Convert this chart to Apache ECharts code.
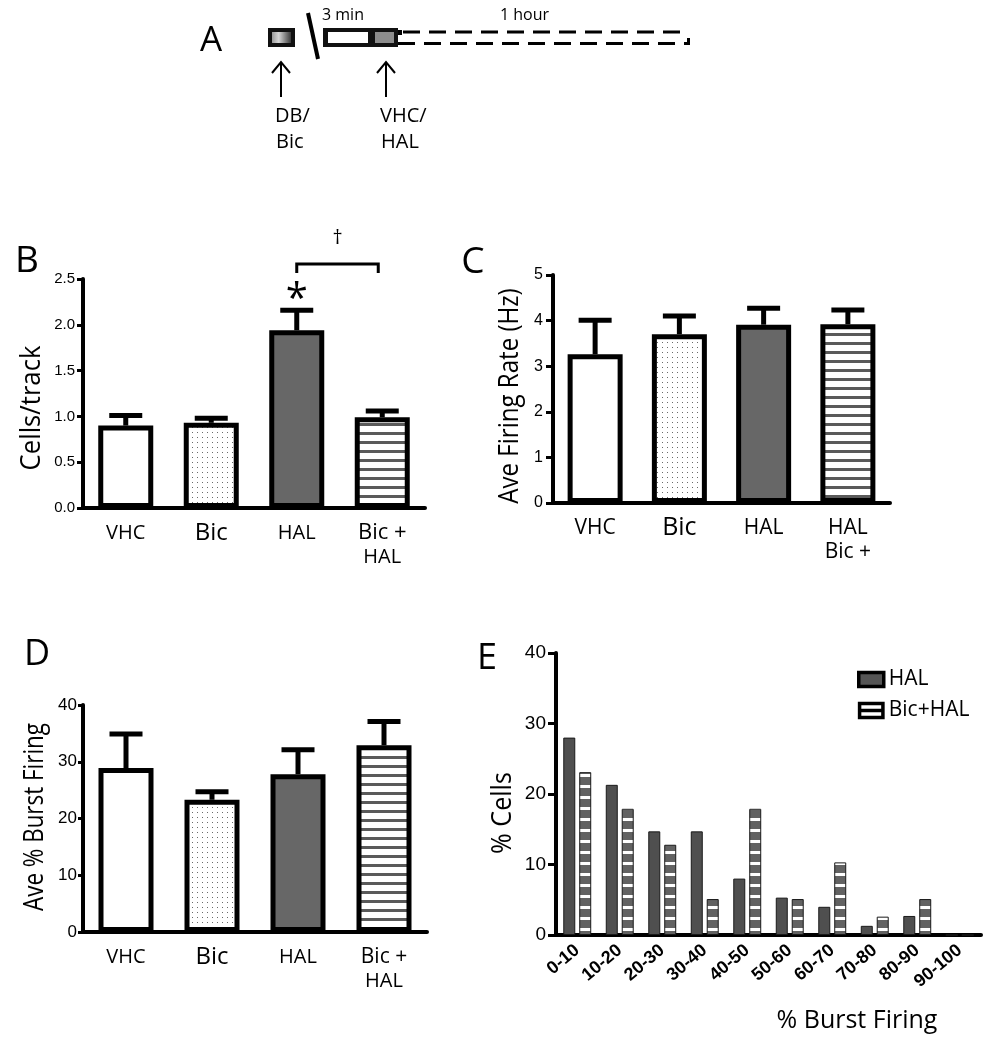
<!DOCTYPE html>
<html><head><meta charset="utf-8">
<script src="https://cdn.jsdelivr.net/npm/echarts@6/dist/echarts.min.js"></script>
<style>html,body{margin:0;padding:0;background:#fff}#c{width:1001px;height:1050px}</style>
</head><body><div id="c"></div>
<script>
// ---------- data ----------
const groupsB = ['VHC', 'Bic', 'HAL', 'Bic +\nHAL'];
const groupsC = ['VHC', 'Bic', 'HAL', 'HAL\nBic +'];
const groupsD = ['VHC', 'Bic', 'HAL', 'Bic +\nHAL'];
const cellsMean = [0.90, 0.93, 1.94, 0.99];
const cellsSem  = [0.11, 0.05, 0.22, 0.07];
const rateMean  = [3.26, 3.70, 3.91, 3.92];
const rateSem   = [0.75, 0.40, 0.36, 0.31];
const burstMean = [28.9, 23.3, 27.8, 32.9];
const burstSem  = [6.0, 1.4, 4.3, 4.2];
const bins = ['0-10', '10-20', '20-30', '30-40', '40-50', '50-60', '60-70', '70-80', '80-90', '90-100'];
const halPct    = [28.0, 21.3, 14.7, 14.7, 8.0, 5.3, 4.0, 1.3, 2.7, 0];
const bicHalPct = [23.1, 17.9, 12.8, 5.1, 17.9, 5.1, 10.3, 2.6, 5.1, 0];
const seriesNamesE = ['HAL', 'Bic+HAL'];

// ---------- styles ----------
const FONT = "'Open Sans', 'Noto Sans', sans-serif";
const NUM = "'Liberation Sans', Arial, sans-serif";
function mkPattern(w, h, draw) {
  const c = document.createElement('canvas'); c.width = w; c.height = h;
  draw(c.getContext('2d')); return { image: c, repeat: 'repeat' };
}
const dots = mkPattern(5, 5, g => { g.fillStyle = '#fff'; g.fillRect(0, 0, 5, 5); g.fillStyle = '#6a6a6a'; g.fillRect(2, 2, 1, 1); });
const stripes = mkPattern(9, 9, g => { g.fillStyle = '#fff'; g.fillRect(0, 0, 9, 9); g.fillStyle = '#5a5a5a'; g.fillRect(0, 0, 9, 3); });
const stripesE = mkPattern(11, 11, g => { g.fillStyle = '#626262'; g.fillRect(0, 0, 11, 11); g.fillStyle = '#fff'; g.fillRect(0, 4, 11, 3); });
const fills = ['#ffffff', dots, '#676767', stripes];

const chart = echarts.init(document.getElementById('c'), null, { renderer: 'canvas' });

function xCat(grid, data, sz) {
  return {
    type: 'category', gridIndex: grid, data: data,
    axisLine: { lineStyle: { color: '#000', width: 4 } },
    axisTick: { alignWithLabel: true, length: 8, lineStyle: { color: '#000', width: 4 } },
    axisLabel: {
      margin: 13, interval: 0,
      formatter: v => v.split('\n').map(s => s === 'Bic' ? '{big|Bic}' : (s === 'Bic +' ? '{mid|Bic +}' : '{n|' + s + '}')).join('\n'),
      rich: {
        n: { fontSize: sz[0], fontFamily: FONT, color: '#000', lineHeight: 24 },
        big: { fontSize: sz[1], fontFamily: FONT, color: '#000', lineHeight: 24 },
        mid: { fontSize: sz[2], fontFamily: FONT, color: '#000', lineHeight: 24 }
      }
    }
  };
}
function yVal(grid, max, interval, fs, margin, tickLen, fmt) {
  return {
    type: 'value', gridIndex: grid, min: 0, max: max, interval: interval,
    splitLine: { show: false },
    axisLine: { show: true, lineStyle: { color: '#000', width: 4 } },
    axisTick: { show: true, length: tickLen, lineStyle: { color: '#000', width: 3 } },
    axisLabel: { fontSize: fs, fontFamily: NUM, color: '#000', margin: margin, formatter: fmt }
  };
}
function barSeries(ax, means) {
  return {
    type: 'bar', xAxisIndex: ax, yAxisIndex: ax, barWidth: 55, z: 3, silent: true,
    data: means.map((m, i) => ({ value: m, itemStyle: { color: fills[i], borderColor: '#000', borderWidth: 5 } }))
  };
}
function errSeries(ax, means, sems) {
  return {
    type: 'custom', xAxisIndex: ax, yAxisIndex: ax, z: 2, silent: true,
    data: means.map((m, i) => [i, m, m + sems[i]]),
    renderItem: (params, api) => {
      const x = api.value(0);
      const lo = api.coord([x, api.value(1)]);
      const hi = api.coord([x, api.value(2)]);
      return {
        type: 'group', children: [
          { type: 'line', shape: { x1: lo[0], y1: lo[1], x2: hi[0], y2: hi[1] }, style: { stroke: '#000', lineWidth: 5 } },
          { type: 'line', shape: { x1: hi[0] - 16.5, y1: hi[1], x2: hi[0] + 16.5, y2: hi[1] }, style: { stroke: '#000', lineWidth: 5 } }
        ]
      };
    }
  };
}

const option = {
  backgroundColor: '#fff',
  animation: false,
  grid: [
    { left: 83, top: 279, width: 342, height: 229 },
    { left: 553, top: 275, width: 337, height: 228 },
    { left: 83, top: 705, width: 344, height: 227 },
    { left: 556, top: 653, width: 425, height: 282 }
  ],
  xAxis: [
    xCat(0, groupsB, [20, 24, 22]),
    xCat(1, groupsC, [21, 25, 21]),
    xCat(2, groupsD, [20, 24, 21]),
    {
      type: 'category', gridIndex: 3, data: bins,
      axisLine: { lineStyle: { color: '#000', width: 4 } },
      axisTick: { alignWithLabel: true, length: 9, lineStyle: { color: '#000', width: 3 } },
      axisLabel: { interval: 0, rotate: 40, margin: 13, fontSize: 18, fontWeight: 'bold', fontFamily: "'Liberation Sans Narrow', 'Liberation Sans', Arial, sans-serif", color: '#000' }
    }
  ],
  yAxis: [
    yVal(0, 2.5, 0.5, 15, 8, 6, v => v.toFixed(1)),
    yVal(1, 5, 1, 16, 10, 7, v => String(v)),
    yVal(2, 40, 10, 17, 6, 5, v => String(v)),
    yVal(3, 40, 10, 19, 10, 8, v => String(v))
  ],
  legend: {
    orient: 'vertical', left: 852, top: 664, itemWidth: 25, itemHeight: 14, itemGap: 10,
    textStyle: { fontFamily: FONT, fontSize: 21, color: '#000' },
    data: [
      { name: 'HAL', icon: 'rect', itemStyle: { color: '#555', borderColor: '#000', borderWidth: 3.5 } },
      { name: 'Bic+HAL', icon: 'path://M0,0L10,0L10,6L0,6Z M0,3L10,3', itemStyle: { color: '#fff', borderColor: '#000', borderWidth: 3.5 } }
    ]
  },
  series: [
    errSeries(0, cellsMean, cellsSem), barSeries(0, cellsMean),
    errSeries(1, rateMean, rateSem), barSeries(1, rateMean),
    errSeries(2, burstMean, burstSem), barSeries(2, burstMean),
    {
      name: seriesNamesE[0], type: 'bar', xAxisIndex: 3, yAxisIndex: 3, barWidth: 12, barGap: '33%', silent: true,
      itemStyle: { color: '#4f4f4f', borderColor: '#1a1a1a', borderWidth: 1 }, data: halPct
    },
    {
      name: seriesNamesE[1], type: 'bar', xAxisIndex: 3, yAxisIndex: 3, barWidth: 12, barGap: '33%', silent: true,
      itemStyle: { color: stripesE, borderColor: '#1a1a1a', borderWidth: 1 }, data: bicHalPct
    }
  ]
};
chart.setOption(option);

// ---------- text / annotations ----------
function T(text, x, y, size, o) {
  o = o || {};
  return {
    type: 'text', x: x, y: y, rotation: o.rot || 0, scaleX: o.sx || 1, scaleY: 1, z: 10,
    style: { text: text, font: (o.w || 'normal') + ' ' + size + 'px ' + (o.f || FONT), fill: '#000', align: o.align || 'center', verticalAlign: 'middle' }
  };
}
const R = Math.PI / 2;
const hal = chart.convertToPixel({ xAxisIndex: 0, yAxisIndex: 0 }, [2, cellsMean[2] + cellsSem[2]]);
const bh = chart.convertToPixel({ xAxisIndex: 0, yAxisIndex: 0 }, [3, 2.5]);
const brY = bh[1] - 15;

const graphics = [
  // panel letters
  T('A', 211, 41, 35), T('B', 27, 261, 37), T('C', 473, 262, 37), T('D', 37, 655, 36), T('E', 487, 659, 36),
  // axis titles
  T('Cells/track', 32, 408, 27, { rot: R, sx: 0.95 }),
  T('Ave Firing Rate (Hz)', 510, 396, 28, { rot: R, sx: 0.86 }),
  T('Ave % Burst Firing', 35, 817, 27, { rot: R, sx: 0.83 }),
  T('% Cells', 503, 813, 27, { rot: R, sx: 0.93 }),
  T('% Burst Firing', 857, 1021, 25),
  // B annotations
  T('*', hal[0], hal[1] - 10, 40),
  { type: 'polyline', z: 10, shape: { points: [[hal[0], brY + 9], [hal[0], brY], [bh[0] - 4, brY], [bh[0] - 4, brY + 9]] }, style: { stroke: '#000', lineWidth: 3, fill: null } },
  T('†', (hal[0] + bh[0] - 4) / 2, brY - 26, 20),
  // panel A scheme
  { type: 'rect', shape: { x: 268, y: 28, width: 27, height: 19 }, style: { fill: '#111' } },
  { type: 'rect', shape: { x: 272, y: 32, width: 19, height: 11 }, style: { fill: new echarts.graphic.LinearGradient(0, 0, 1, 0, [{ offset: 0, color: '#9a9a9a' }, { offset: 0.35, color: '#d6d6d6' }, { offset: 1, color: '#3c3c3c' }]) } },
  { type: 'line', shape: { x1: 308, y1: 13, x2: 318, y2: 59 }, style: { stroke: '#000', lineWidth: 4 } },
  { type: 'rect', shape: { x: 323, y: 28, width: 75, height: 19 }, style: { fill: '#111' } },
  { type: 'rect', shape: { x: 328, y: 32, width: 40, height: 11 }, style: { fill: '#fff' } },
  { type: 'rect', shape: { x: 375, y: 32, width: 19, height: 11 }, style: { fill: '#8c8c8c' } },
  { type: 'rect', shape: { x: 398, y: 30, width: 4, height: 5 }, style: { fill: '#000' } },
  { type: 'line', shape: { x1: 403, y1: 32, x2: 689, y2: 32 }, style: { stroke: '#000', lineWidth: 3, lineDash: [17, 9] } },
  { type: 'line', shape: { x1: 398, y1: 43.5, x2: 690, y2: 43.5 }, style: { stroke: '#000', lineWidth: 3, lineDash: [17, 9] } },
  { type: 'line', shape: { x1: 688.5, y1: 38, x2: 688.5, y2: 45 }, style: { stroke: '#000', lineWidth: 3 } },
  T('3 min', 322, 15, 16, { align: 'left' }), T('1 hour', 500, 15, 16, { align: 'left' }),
  { type: 'polyline', shape: { points: [[272, 73], [281, 62], [290, 73]] }, style: { stroke: '#000', lineWidth: 2, fill: null } },
  { type: 'line', shape: { x1: 281, y1: 62, x2: 281, y2: 97 }, style: { stroke: '#000', lineWidth: 2 } },
  { type: 'polyline', shape: { points: [[377, 73], [386, 62], [395, 73]] }, style: { stroke: '#000', lineWidth: 2, fill: null } },
  { type: 'line', shape: { x1: 386, y1: 62, x2: 386, y2: 97 }, style: { stroke: '#000', lineWidth: 2 } },
  T('DB/', 275, 116, 20, { align: 'left' }), T('Bic', 276, 142, 20, { align: 'left' }),
  T('VHC/', 380, 116, 20, { align: 'left' }), T('HAL', 381, 142, 20, { align: 'left' })
];
chart.setOption({ graphic: graphics });
</script>
</body></html>
